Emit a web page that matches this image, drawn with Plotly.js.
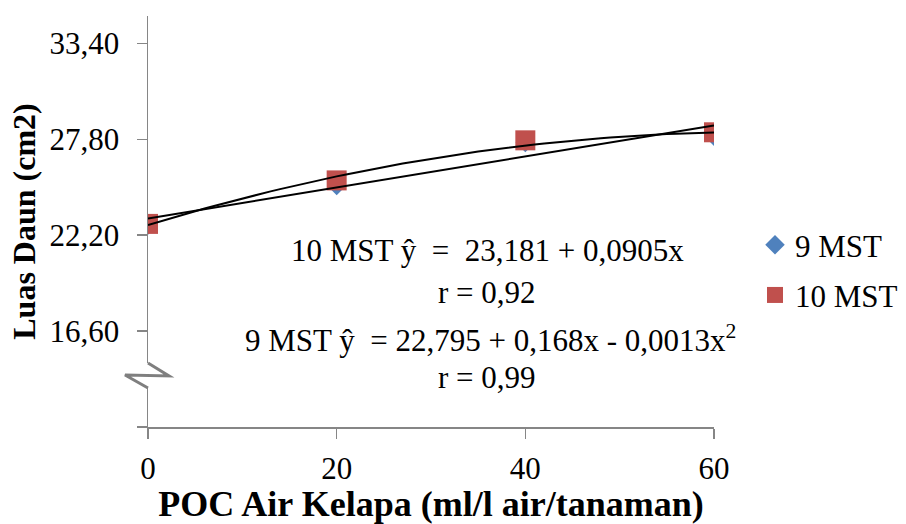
<!DOCTYPE html>
<html>
<head>
<meta charset="utf-8">
<script src="https://cdn.plot.ly/plotly-3.0.1.min.js"></script>
<style>html,body{margin:0;padding:0;background:#fff;}#chart{width:906px;height:524px;}</style>
</head>
<body>
<div id="chart"></div>
<script>
// ---- data ----
const doses = [0, 20, 40, 60];
const mst9 = [22.80, 25.10, 27.62, 27.98];
const mst10 = [22.86, 25.40, 27.74, 28.21];
const seriesNames = ['9 MST', '10 MST'];
// trend-line coefficients as printed on the chart
const linCoef = [23.181, 0.0905];          // "10 MST" label: linear
const quadCoef = [22.795, 0.168, -0.0013]; // "9 MST" label: quadratic
const yTickVals = [11, 16.6, 22.2, 27.8, 33.4];
const yTickText = ['', '16,60', '22,20', '27,80', '33,40'];
const xTickVals = [0, 20, 40, 60];
const eqLines = ['10 MST ŷ  =  23,181 + 0,0905x', 'r = 0,92', '9 MST ŷ  = 22,795 + 0,168x - 0,0013x<sup>2</sup>', 'r = 0,99'];

// trend curves evaluated on a fine grid of the x domain
const grid = [];
for (let i = 0; i <= 60; i++) grid.push(i);
const linY = grid.map(x => linCoef[0] + linCoef[1] * x);
const quadY = grid.map(x => quadCoef[0] + quadCoef[1] * x + quadCoef[2] * x * x);

const FONT = "'Liberation Serif', 'Times New Roman', serif";
const W = 906, H = 524;
const L = 148, R = 714, T = 16, B = 427;
const px = v => (v - L) / (R - L);
const py = v => (B - v) / (B - T);

const traces = [
  {x: doses, y: mst9, name: seriesNames[0], mode: 'markers', type: 'scatter',
   legendgroup: 'a',
   marker: {symbol: 'diamond', size: 15, color: '#4F81BD'}},
  {x: doses, y: mst10, name: seriesNames[1], mode: 'markers', type: 'scatter',
   legendgroup: 'b',
   marker: {symbol: 'square', size: 20, color: '#C0504D'}},
  {x: grid, y: linY, mode: 'lines', showlegend: false, hoverinfo: 'skip',
   line: {color: '#000', width: 2}},
  {x: grid, y: quadY, mode: 'lines', showlegend: false, hoverinfo: 'skip',
   line: {color: '#000', width: 2}}
];

const eqY = [250, 292, 338, 377];
const eqX = [487, 487, 490, 487];
const annotations = eqLines.map((t, i) => ({
  xref: 'paper', yref: 'paper', x: px(eqX[i]), y: py(eqY[i]),
  xanchor: 'center', yanchor: 'middle', showarrow: false, text: t,
  font: {family: FONT, size: 31, color: '#000'}
}));

const shapes = [
  {type: 'rect', xref: 'paper', yref: 'paper', layer: 'above',
   x0: px(140), x1: px(156), y0: py(388), y1: py(363),
   fillcolor: '#fff', line: {width: 0}},
  {type: 'path', xref: 'paper', yref: 'paper', layer: 'above',
   path: 'M ' + px(148) + ' ' + py(363) + ' L ' + px(169) + ' ' + py(376) +
         ' L ' + px(125) + ' ' + py(375) + ' L ' + px(148) + ' ' + py(388),
   line: {color: '#7f7f7f', width: 3}}
];

const layout = {
  width: W, height: H,
  margin: {l: L, r: W - R, t: T, b: H - B, pad: 0},
  paper_bgcolor: '#fff', plot_bgcolor: '#fff',
  showlegend: true,
  font: {family: FONT, color: '#000'},
  xaxis: {
    range: [0, 60], tickvals: xTickVals, ticktext: xTickVals.map(String),
    showgrid: false, zeroline: false, showline: true, linecolor: '#868686', linewidth: 1.5,
    ticks: 'outside', ticklen: 10, tickcolor: '#868686', tickwidth: 1.5,
    ticklabelstandoff: 3,
    tickfont: {family: FONT, size: 31, color: '#000'},
    title: {text: '<b>POC Air Kelapa (ml/l air/tanaman)</b>', standoff: 4,
            font: {family: FONT, size: 36, color: '#000'}},
    automargin: false, fixedrange: true
  },
  yaxis: {
    range: [11, 35], tickvals: yTickVals, ticktext: yTickText,
    showgrid: false, zeroline: false, showline: true, linecolor: '#868686', linewidth: 1.5,
    ticks: 'outside', ticklen: 10, tickcolor: '#868686', tickwidth: 1.5,
    ticklabelstandoff: 11,
    tickfont: {family: FONT, size: 31, color: '#000'},
    title: {text: '<b>Luas Daun (cm2)</b>', standoff: 4,
            font: {family: FONT, size: 32, color: '#000'}},
    automargin: false, fixedrange: true
  },
  legend: {
    xref: 'container', yref: 'container',
    x: 755 / W, y: 1 - 218 / H, xanchor: 'left', yanchor: 'top',
    font: {family: FONT, size: 31, color: '#000'},
    tracegroupgap: 7, itemwidth: 30, bgcolor: 'rgba(0,0,0,0)'
  },
  annotations: annotations,
  shapes: shapes
};

Plotly.newPlot('chart', traces, layout, {staticPlot: true, displayModeBar: false});
</script>
</body>
</html>
